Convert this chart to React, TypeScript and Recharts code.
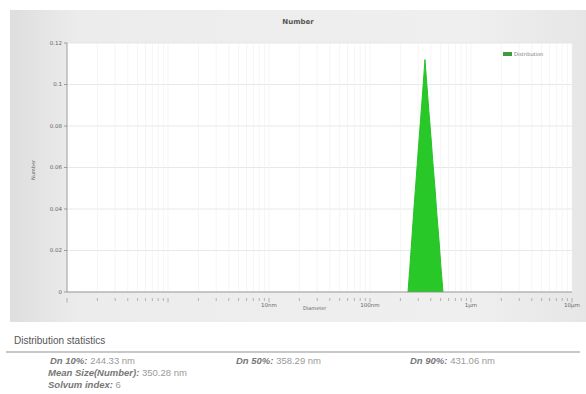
import { Area, AreaChart, CartesianGrid, XAxis, YAxis } from 'recharts';

const diameters = [238, 249, 260, 272, 285, 298, 312, 327, 342, 350, 366, 383, 401, 420, 440, 460, 482, 504, 528];
const amounts = [0, 0.013, 0.026, 0.04, 0.053, 0.066, 0.079, 0.092, 0.105, 0.112, 0.0996, 0.087, 0.075, 0.062, 0.05, 0.037, 0.025, 0.012, 0];

const majorTicks = [0.1, 1, 10, 100, 1000, 10000];
const minorSteps = [2, 3, 4, 5, 6, 7, 8, 9];
const xTickLabels: Record<string, string> = { '10': '10nm', '100': '100nm', '1000': '1µm', '10000': '10µm' };
const yTicks = [0, 0.02, 0.04, 0.06, 0.08, 0.1, 0.12];

const stats = [
  { label: 'Dn 10%:', value: '244.33 nm', left: 50, top: 355 },
  { label: 'Dn 50%:', value: '358.29 nm', left: 236, top: 355 },
  { label: 'Dn 90%:', value: '431.06 nm', left: 410, top: 355 },
  { label: 'Mean Size(Number):', value: '350.28 nm', left: 48, top: 367 },
  { label: 'Solvum index:', value: '6', left: 48, top: 379 }
];

const data = diameters.map((d, i) => ({ d, v: amounts[i] }));

const xTicks: number[] = [];
majorTicks.forEach((m, i) => {
  xTicks.push(m);
  if (i < majorTicks.length - 1) minorSteps.forEach((s) => xTicks.push(+(m * s).toPrecision(3)));
});

const font = '"DejaVu Sans", sans-serif';

function XTick(props: any) {
  const { x, y, payload } = props;
  const val = payload.value;
  const major = majorTicks.includes(val);
  const label = xTickLabels[String(val)];
  return (
    <g>
      <line x1={x} x2={x} y1={y - 2} y2={y + (major ? 2.5 : 1)} stroke="#999" strokeWidth={0.7} />
      {label && (
        <text x={x} y={y + 7} textAnchor="middle" fontSize={5.5} fill="#666" fontFamily={font}>
          {label}
        </text>
      )}
    </g>
  );
}

export default function App() {
  return (
    <div style={{ position: 'relative', width: 586, height: 394, background: '#fff', fontFamily: font }}>
      <style>{'body{margin:0}'}</style>
      <div
        style={{
          position: 'absolute',
          left: 10,
          top: 10,
          width: 576,
          height: 312,
          background: 'linear-gradient(to right, #dedede, #ececec 12%, #efefef 80%, #e6e6e6)'
        }}
      />
      <div style={{ position: 'absolute', left: 10, top: 10 }}>
        <AreaChart width={576} height={312} data={data} margin={{ top: 33, right: 14, bottom: 0, left: 0 }}>
          <CartesianGrid vertical={false} stroke="#e2e2e2" strokeWidth={0.8} fill="#ffffff" />
          <CartesianGrid horizontal={false} stroke="#f1f1f1" strokeWidth={0.7} />
          <XAxis
            dataKey="d"
            type="number"
            scale="log"
            domain={[0.1, 10000]}
            allowDataOverflow
            ticks={xTicks}
            interval={0}
            height={30}
            tick={<XTick />}
            tickLine={false}
            axisLine={{ stroke: '#888', strokeWidth: 0.8 }}
          />
          <YAxis
            type="number"
            domain={[0, 0.12]}
            ticks={yTicks}
            interval={0}
            width={57}
            tickSize={3}
            tickLine={{ stroke: '#888', strokeWidth: 0.8 }}
            axisLine={{ stroke: '#888', strokeWidth: 0.8 }}
            tick={{ fontSize: 5.5, fill: '#666', fontFamily: font }}
          />
          <Area
            dataKey="v"
            type="linear"
            stroke="#27c227"
            strokeWidth={1}
            fill="#27c827"
            fillOpacity={1}
            dot={false}
            activeDot={false}
            isAnimationActive={false}
          />
        </AreaChart>
      </div>
      <div style={{ position: 'absolute', left: 10, width: 576, top: 18, textAlign: 'center', fontSize: 7, fontWeight: 'bold', color: '#555' }}>
        Number
      </div>
      <div
        style={{
          position: 'absolute',
          left: 33,
          top: 170,
          fontSize: 5,
          color: '#666',
          transform: 'translate(-50%, -50%) rotate(-90deg)',
          whiteSpace: 'nowrap'
        }}
      >
        Number
      </div>
      <div style={{ position: 'absolute', left: 303, top: 305, fontSize: 5, color: '#666' }}>Diameter</div>
      <div style={{ position: 'absolute', left: 503, top: 51, display: 'flex', alignItems: 'center', fontSize: 5, color: '#777' }}>
        <span style={{ display: 'inline-block', width: 9, height: 4, background: '#3e9a3e', marginRight: 2 }} />
        Distribution
      </div>
      <div style={{ position: 'absolute', left: 14, top: 335, fontSize: 10, color: '#555', fontFamily: '"Liberation Sans", sans-serif' }}>
        Distribution statistics
      </div>
      <div style={{ position: 'absolute', left: 6, top: 351, width: 574, height: 1.5, background: '#c8c8c8' }} />
      {stats.map((s) => (
        <div
          key={s.label}
          style={{
            position: 'absolute',
            left: s.left,
            top: s.top,
            fontSize: 9.5,
            whiteSpace: 'nowrap',
            fontFamily: '"Liberation Sans", sans-serif'
          }}
        >
          <span style={{ fontStyle: 'italic', fontWeight: 'bold', color: '#777' }}>{s.label}</span>
          <span style={{ color: '#9a9a9a' }}> {s.value}</span>
        </div>
      ))}
    </div>
  );
}
